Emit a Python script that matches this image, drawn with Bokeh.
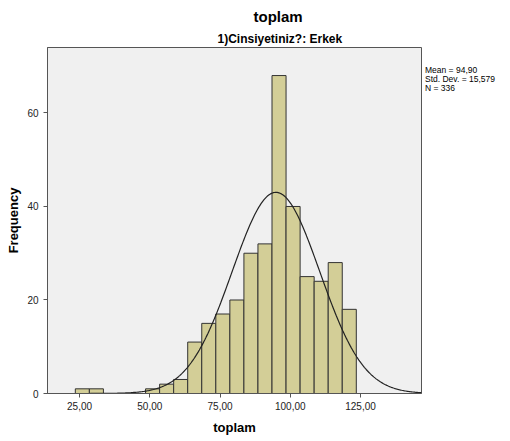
import numpy as np
from bokeh.plotting import figure
from bokeh.models import ColumnDataSource, FixedTicker, Range1d, Title, Div
from bokeh.layouts import row
from bokeh.embed import file_html
from bokeh.resources import INLINE

# Histogram data (bin edges, counts)
bin_left = [23.5, 28.5, 48.5, 53.5, 58.5, 63.5, 68.5, 73.5, 78.5, 83.5,
            88.5, 93.5, 98.5, 103.5, 108.5, 113.5, 118.5]
bin_width = 5.0
counts = [1, 1, 1, 2, 3, 11, 15, 17, 20, 30, 32, 68, 40, 25, 24, 28, 18]

mean_val = 94.90
std_val = 15.579
n_val = 336

x_ticks = [25, 50, 75, 100, 125]
x_tick_labels = ["25,00", "50,00", "75,00", "100,00", "125,00"]
y_ticks = [0, 20, 40, 60]

FONT = "Liberation Sans"

H = 441
p = figure(width=422, height=H, output_backend="svg", toolbar_location=None,
           x_range=Range1d(13.6, 146.7), y_range=Range1d(0, 74),
           min_border_left=47, min_border_right=1, min_border_top=47,
           min_border_bottom=48)
p.background_fill_color = "#F0F0F0"
p.border_fill_color = "white"
p.outline_line_color = "#555555"
p.outline_line_width = 1
p.xgrid.visible = False
p.ygrid.visible = False

src = ColumnDataSource(dict(
    left=bin_left,
    right=[b + bin_width for b in bin_left],
    top=counts,
    bottom=[0] * len(counts),
))
p.quad(left="left", right="right", top="top", bottom="bottom", source=src,
       fill_color="#D3CE97", line_color="#333333", line_width=1)

# fitted normal curve from the stated mean / std / N
xs = np.linspace(13.6, 146.7, 400)
ys = n_val * bin_width / (std_val * np.sqrt(2 * np.pi)) * np.exp(-0.5 * ((xs - mean_val) / std_val) ** 2)
p.line(xs, ys, line_color="#222222", line_width=1.2)

for ax in (p.xaxis, p.yaxis):
    ax.axis_line_color = "#555555"
    ax.major_tick_line_color = "#555555"
    ax.minor_tick_line_color = None
    ax.major_tick_in = 0
    ax.major_tick_out = 4
    ax.major_label_text_font = FONT
    ax.major_label_text_font_size = "10px"
    ax.major_label_text_color = "#222222"
    ax.axis_label_text_font = FONT
    ax.axis_label_text_font_size = "13px"
    ax.axis_label_text_font_style = "bold"
    ax.axis_label_text_color = "#000000"

p.xaxis.ticker = FixedTicker(ticks=x_ticks)
p.xaxis.major_label_overrides = {t: l for t, l in zip(x_ticks, x_tick_labels)}
p.xaxis.major_label_standoff = 4
p.xaxis.axis_label = "toplam"
p.xaxis.axis_label_standoff = 7
p.yaxis.ticker = FixedTicker(ticks=y_ticks)
p.yaxis.major_label_standoff = 5
p.yaxis.axis_label = "Frequency"
p.yaxis.axis_label_standoff = 3

# titles (first added = closest to the frame)
p.add_layout(Title(text="1)Cinsiyetiniz?: Erkek", text_font=FONT, text_font_size="12px",
                   text_font_style="bold", text_color="#000000",
                   align="left", offset=170, standoff=3), "above")
p.add_layout(Title(text="toplam", text_font=FONT, text_font_size="15px",
                   text_font_style="bold", text_color="#000000",
                   align="left", offset=206, standoff=3, vertical_align="top"), "above")

# statistics text on the right
stats = [
    "Mean = " + f"{mean_val:.2f}".replace(".", ","),
    "Std. Dev. = " + f"{std_val:.3f}".replace(".", ","),
    "N = " + str(n_val),
]
stats_html = ('<div style="margin-left:3px;margin-top:66px;font-family:\'Liberation Sans\';'
              'font-size:8.5px;line-height:9px;color:#000;white-space:nowrap;">'
              + "<br>".join(stats) + "</div>")
div = Div(text=stats_html, width=88, height=H, margin=0)

layout = row(p, div, spacing=0)
open("out.html", "w").write(file_html(layout, INLINE))
